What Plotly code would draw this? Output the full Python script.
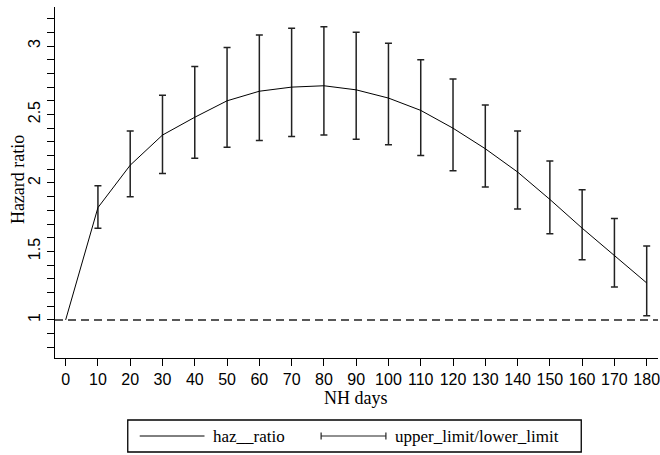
import plotly.graph_objects as go

# ---- data ----
curve_days = [0, 10, 20, 30, 40, 50, 60, 70, 80, 90, 100, 110, 120, 130, 140, 150, 160, 170, 180]
haz_ratio = [1.00, 1.82, 2.13, 2.35, 2.48, 2.60, 2.67, 2.70, 2.71, 2.68, 2.62, 2.53, 2.40, 2.25, 2.08, 1.88, 1.67, 1.47, 1.27]

ci_days = [10, 20, 30, 40, 50, 60, 70, 80, 90, 100, 110, 120, 130, 140, 150, 160, 170, 180]
ci_mid = [1.82, 2.13, 2.35, 2.48, 2.60, 2.67, 2.70, 2.71, 2.68, 2.62, 2.53, 2.40, 2.25, 2.08, 1.88, 1.67, 1.47, 1.27]
upper_limit = [1.98, 2.38, 2.64, 2.85, 2.99, 3.08, 3.13, 3.14, 3.10, 3.02, 2.90, 2.76, 2.57, 2.38, 2.16, 1.95, 1.74, 1.54]
lower_limit = [1.67, 1.90, 2.07, 2.18, 2.26, 2.31, 2.34, 2.35, 2.32, 2.28, 2.20, 2.09, 1.97, 1.81, 1.63, 1.44, 1.24, 1.03]

ref_x = [-3.3, 183.5]
ref_y = [1, 1]

x_ticks = list(range(0, 181, 10))
y_ticks = [1, 1.5, 2, 2.5, 3]
y_tick_text = ["1", "1.5", "2", "2.5", "3"]

W, H = 660, 455
L, R, T, B = 55, 0, 7, 97
PW, PH = W - L - R, H - T - B

SANS = "Liberation Sans Narrow, Arial Narrow, Liberation Sans, Arial, sans-serif"
SERIF = "Liberation Serif, Times New Roman, serif"


def px(xpix):
    return (xpix - L) / PW


def py(ypix):
    return (H - B - ypix) / PH


fig = go.Figure()

fig.add_trace(go.Scatter(
    x=ref_x, y=ref_y, mode="lines",
    line=dict(color="#222222", width=1.5, dash="8px,5px"),
    showlegend=False, hoverinfo="skip"))

fig.add_trace(go.Scatter(
    x=ci_days, y=ci_mid, mode="markers",
    marker=dict(size=1, opacity=0),
    error_y=dict(type="data", symmetric=False,
                 array=[u - m for u, m in zip(upper_limit, ci_mid)],
                 arrayminus=[m - l for m, l in zip(ci_mid, lower_limit)],
                 color="#222222", thickness=1.5, width=3.5),
    showlegend=False))

fig.add_trace(go.Scatter(
    x=curve_days, y=haz_ratio, mode="lines",
    line=dict(color="#000000", width=1),
    showlegend=False))

# ---- custom legend ----
ly = 436
shapes = [
    dict(type="rect", xref="paper", yref="paper",
         x0=px(128), x1=px(583), y0=py(420), y1=py(452),
         line=dict(color="#000000", width=1.3), fillcolor="rgba(0,0,0,0)"),
    dict(type="line", xref="paper", yref="paper",
         x0=px(140), x1=px(205), y0=py(ly), y1=py(ly),
         line=dict(color="#000000", width=1)),
    dict(type="line", xref="paper", yref="paper",
         x0=px(322), x1=px(387), y0=py(ly), y1=py(ly),
         line=dict(color="#222222", width=1.2)),
    dict(type="line", xref="paper", yref="paper",
         x0=px(322), x1=px(322), y0=py(ly - 3.5), y1=py(ly + 3.5),
         line=dict(color="#222222", width=1.2)),
    dict(type="line", xref="paper", yref="paper",
         x0=px(387), x1=px(387), y0=py(ly - 3.5), y1=py(ly + 3.5),
         line=dict(color="#222222", width=1.2)),
]

annotations = [
    dict(text="haz__ratio", xref="paper", yref="paper", x=px(212), y=py(ly),
         xanchor="left", yanchor="middle", showarrow=False,
         font=dict(family=SERIF, size=17, color="#000000")),
    dict(text="upper_limit/lower_limit", xref="paper", yref="paper", x=px(394), y=py(ly),
         xanchor="left", yanchor="middle", showarrow=False,
         font=dict(family=SERIF, size=17, color="#000000")),
    dict(text="Hazard ratio", xref="paper", yref="paper", x=px(18), y=py(180),
         xanchor="center", yanchor="middle", textangle=-90, showarrow=False,
         font=dict(family=SERIF, size=18, color="#000000")),
    dict(text="NH days", xref="paper", yref="paper", x=px(357), y=py(398),
         xanchor="center", yanchor="middle", showarrow=False,
         font=dict(family=SERIF, size=18, color="#000000")),
]

fig.update_layout(
    width=W, height=H,
    margin=dict(l=L, r=R, t=T, b=B, pad=0),
    paper_bgcolor="white", plot_bgcolor="white",
    showlegend=False,
    shapes=shapes, annotations=annotations,
    xaxis=dict(range=[-3.3, 183.5], tickvals=x_ticks, ticktext=[str(v) for v in x_ticks],
               ticks="outside", ticklen=7, tickwidth=1.2, tickcolor="#000000",
               ticklabeloverflow="allow",
               showline=True, linecolor="#000000", linewidth=1.3,
               showgrid=False, zeroline=False,
               tickfont=dict(family=SANS, size=16, color="#000000")),
    yaxis=dict(range=[0.722, 3.285], tickvals=y_ticks, ticktext=y_tick_text,
               tickangle=-90,
               ticks="outside", ticklen=7, tickwidth=1.2, tickcolor="#000000",
               minor=dict(dtick=0.1, tick0=0, ticks="outside", ticklen=7, tickwidth=1.2,
                          tickcolor="#000000", showgrid=False),
               showline=True, linecolor="#000000", linewidth=1.3,
               showgrid=False, zeroline=False,
               tickfont=dict(family=SANS, size=16, color="#000000")),
)

fig.write_html(
    "out.html",
    config={"displayModeBar": False},
    post_script="document.body.style.margin='0';document.body.style.overflow='hidden';",
)
